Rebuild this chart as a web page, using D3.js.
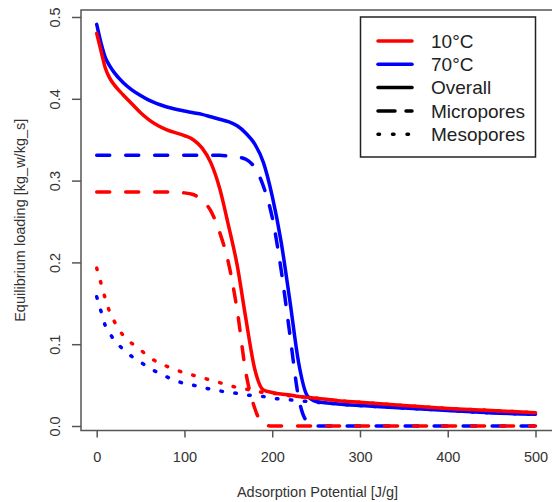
<!DOCTYPE html>
<html>
<head>
<meta charset="utf-8">
<script src="https://cdn.jsdelivr.net/npm/d3@7"></script>
<style>
  body { margin: 0; background: #fff; }
  svg { display: block; font-family: "Liberation Sans", Arial, sans-serif; }
  .tick text { fill: #333; }
</style>
</head>
<body>
<div id="chart"></div>
<script>
// adsorption potential grid [J/g]
const potential = [0, 5, 10, 15, 20, 30, 40, 50, 60, 80, 100, 110, 120, 130, 140, 150, 160, 170, 180, 190, 200, 210, 220, 230, 240, 250, 275, 300, 350, 400, 450, 500];

// equilibrium loading [kg_w/kg_s]
const overall10 = [0.480, 0.458, 0.437, 0.425, 0.417, 0.405, 0.394, 0.383, 0.374, 0.362, 0.355, 0.350, 0.340, 0.322, 0.291, 0.246, 0.197, 0.131, 0.070, 0.044, 0.041, 0.039, 0.038, 0.036, 0.035, 0.034, 0.031, 0.029, 0.025, 0.0215, 0.019, 0.0163];
const micro10   = [0.286, 0.286, 0.286, 0.286, 0.286, 0.286, 0.286, 0.286, 0.286, 0.286, 0.285, 0.283, 0.276, 0.263, 0.237, 0.200, 0.142, 0.065, 0.022, 0.002, 0, 0, 0, 0, 0, 0, 0, 0, 0, 0, 0, 0];
const meso10    = [0.193, 0.174, 0.155, 0.139, 0.128, 0.111, 0.101, 0.093, 0.084, 0.073, 0.065, 0.062, 0.059, 0.056, 0.053, 0.050, 0.047, 0.045, 0.043, 0.041, 0.040, 0.039, 0.037, 0.036, 0.035, 0.034, 0.031, 0.029, 0.025, 0.0215, 0.019, 0.0163];

const overall70 = [0.491, 0.468, 0.450, 0.440, 0.432, 0.420, 0.411, 0.404, 0.398, 0.390, 0.385, 0.383, 0.381, 0.378, 0.375, 0.372, 0.367, 0.358, 0.345, 0.322, 0.281, 0.226, 0.154, 0.078, 0.037, 0.030, 0.027, 0.025, 0.022, 0.019, 0.016, 0.0143];
const micro70   = [0.331, 0.331, 0.331, 0.331, 0.331, 0.331, 0.331, 0.331, 0.331, 0.331, 0.331, 0.331, 0.331, 0.331, 0.331, 0.330, 0.329, 0.326, 0.316, 0.293, 0.255, 0.192, 0.113, 0.035, 0.005, 0, 0, 0, 0, 0, 0, 0];
const meso70    = [0.158, 0.140, 0.122, 0.113, 0.105, 0.094, 0.085, 0.078, 0.071, 0.060, 0.052, 0.050, 0.047, 0.045, 0.043, 0.041, 0.040, 0.038, 0.037, 0.036, 0.034, 0.033, 0.032, 0.031, 0.030, 0.029, 0.027, 0.025, 0.022, 0.019, 0.016, 0.0143];

const xTicks = [0, 100, 200, 300, 400, 500];
const yTicks = [0.0, 0.1, 0.2, 0.3, 0.4, 0.5];

const legendLabels = ["10°C", "70°C", "Overall", "Micropores", "Mesopores"];

const width = 552, height = 502;
const box = { left: 81, top: 10, right: 555, bottom: 430.5 };

const svg = d3.select("#chart")
    .append("svg")
    .attr("width", width)
    .attr("height", height);

// scales
const xScale = d3.scaleLinear().domain([0, 500]).range([96.7, 535.5]);
const yScale = d3.scaleLinear().domain([0, 0.5]).range([426, 17]);

const dashStyle = { solid: null, dashed: "13 16", dotted: "1.5 12.5" };

// series in drawing order (blue under red)
const series = [
    { values: overall70, color: "#0000ff", style: "solid" },
    { values: micro70,   color: "#0000ff", style: "dashed" },
    { values: meso70,    color: "#0000ff", style: "dotted" },
    { values: overall10, color: "#ff0000", style: "solid" },
    { values: micro10,   color: "#ff0000", style: "dashed" },
    { values: meso10,    color: "#ff0000", style: "dotted" }
];

const line = d3.line()
    .x((d, i) => xScale(potential[i]))
    .y(d => yScale(d))
    .curve(d3.curveMonotoneX);

svg.append("g")
    .selectAll("path")
    .data(series)
    .join("path")
        .attr("d", d => line(d.values))
        .attr("fill", "none")
        .attr("stroke", d => d.color)
        .attr("stroke-width", 3.5)
        .attr("stroke-linecap", "round")
        .attr("stroke-linejoin", "round")
        .attr("stroke-dasharray", d => dashStyle[d.style]);

// plot frame
svg.append("rect")
    .attr("x", box.left)
    .attr("y", box.top)
    .attr("width", box.right - box.left)
    .attr("height", box.bottom - box.top)
    .attr("fill", "none")
    .attr("stroke", "#555")
    .attr("stroke-width", 1.5);

// axes
const bottomAxis = d3.axisBottom(xScale)
    .tickValues(xTicks)
    .tickSize(7)
    .tickPadding(14)
    .tickFormat(d3.format("d"));

const xAxis = svg.append("g")
    .attr("transform", `translate(0, ${box.bottom})`)
    .call(bottomAxis);
xAxis.select(".domain").remove();
xAxis.selectAll(".tick line").attr("stroke", "#555").attr("stroke-width", 1.5);
xAxis.selectAll(".tick text").attr("font-size", 14.5).attr("font-family", "Liberation Sans, Arial, sans-serif");

const leftAxis = d3.axisLeft(yScale)
    .tickValues(yTicks)
    .tickSize(9)
    .tickFormat(d3.format(".1f"));

const yAxis = svg.append("g")
    .attr("transform", `translate(${box.left}, 0)`)
    .call(leftAxis);
yAxis.select(".domain").remove();
yAxis.selectAll(".tick line").attr("stroke", "#555").attr("stroke-width", 1.5);
yAxis.selectAll(".tick text")
    .attr("x", null)
    .attr("dy", null)
    .attr("font-size", 14.5)
    .attr("font-family", "Liberation Sans, Arial, sans-serif")
    .attr("text-anchor", "middle")
    .attr("transform", "translate(-21, 0) rotate(-90)");

// axis titles
svg.append("text")
    .text("Adsorption Potential [J/g]")
    .attr("x", (box.left + 554) / 2)
    .attr("y", 497)
    .attr("text-anchor", "middle")
    .attr("font-size", 14.5)
    .attr("fill", "#333");

svg.append("text")
    .text("Equilibrium loading [kg_w/kg_s]")
    .attr("transform", `translate(25, ${(box.top + box.bottom) / 2}) rotate(-90)`)
    .attr("text-anchor", "middle")
    .attr("font-size", 14.5)
    .attr("fill", "#333");

// legend
const legendItems = [
    { label: legendLabels[0], color: "#ff0000", style: "solid" },
    { label: legendLabels[1], color: "#0000ff", style: "solid" },
    { label: legendLabels[2], color: "#000000", style: "solid" },
    { label: legendLabels[3], color: "#000000", style: "dashed" },
    { label: legendLabels[4], color: "#000000", style: "dotted" }
];

const legend = svg.append("g");
legend.append("rect")
    .attr("x", 360.5)
    .attr("y", 17)
    .attr("width", 175)
    .attr("height", 140)
    .attr("fill", "#fff")
    .attr("stroke", "#222")
    .attr("stroke-width", 1.5);

const rows = legend.selectAll("g.row")
    .data(legendItems)
    .join("g")
        .attr("class", "row")
        .attr("transform", (d, i) => `translate(0, ${41 + i * 23.3})`);

rows.append("line")
    .attr("x1", 378)
    .attr("x2", 412)
    .attr("stroke", d => d.color)
    .attr("stroke-width", 3.5)
    .attr("stroke-linecap", "round")
    .attr("stroke-dasharray", d => d.style === "dashed" ? "17 11" : d.style === "dotted" ? "1.5 13" : null);

rows.append("text")
    .text(d => d.label)
    .attr("x", 431)
    .attr("dy", "0.35em")
    .attr("font-size", 19)
    .attr("fill", "#222");
</script>
</body>
</html>
